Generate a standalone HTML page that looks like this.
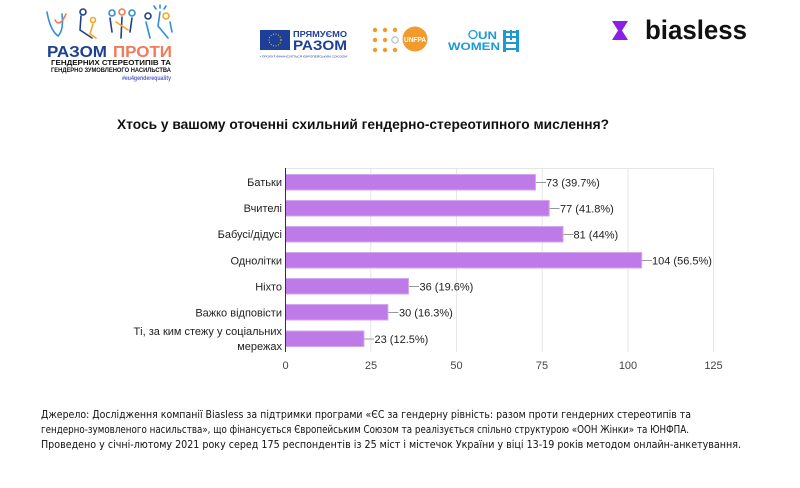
<!DOCTYPE html>
<html>
<head>
<meta charset="utf-8">
<style>
html,body{margin:0;padding:0;background:#fff;}
svg{display:block;}
</style>
</head>
<body>
<svg width="800" height="488" viewBox="0 0 800 488" xmlns="http://www.w3.org/2000/svg" font-family="Liberation Sans, sans-serif">
<rect width="800" height="488" fill="#fff"/>

<!-- Left logo: figures -->
<g fill="none" stroke-width="1.6" stroke-linecap="round">
  <path d="M47 12 Q50 30 58 36 Q64 30 62 14" stroke="#2f8fd8"/>
  <path d="M55 20 Q60 28 66 14" stroke="#f07a5a"/>
  <circle cx="83" cy="12" r="3" stroke="#1f3f8f"/>
  <path d="M81 16 L80 30 L92 38" stroke="#1f3f8f"/>
  <circle cx="93" cy="20" r="2.5" stroke="#f5a623"/>
  <path d="M93 24 L90 34 L96 38" stroke="#f5a623"/>
  <circle cx="112" cy="13" r="3" stroke="#2f8fd8"/>
  <circle cx="122" cy="12" r="3" stroke="#f07a5a"/>
  <circle cx="132" cy="13" r="3" stroke="#2f8fd8"/>
  <path d="M110 18 L112 32 M122 17 L121 38 M132 18 L130 32" stroke="#1f3f8f"/>
  <path d="M116 22 L128 30" stroke="#f5a623"/>
  <circle cx="148" cy="16" r="3" stroke="#1f3f8f"/>
  <circle cx="166" cy="16" r="3" stroke="#f5a623"/>
  <path d="M146 22 L150 38 M160 12 L158 26 L168 38 M170 22 L172 32" stroke="#2f8fd8"/>
  <path d="M154 6 L156 9 M160 5 L160 8 M166 6 L164 9" stroke="#2f8fd8"/>
</g>
<text x="47" y="57" font-size="15.5" font-weight="bold" fill="#1f3f8f" textLength="60" lengthAdjust="spacingAndGlyphs">РАЗОМ</text>
<text x="113" y="57" font-size="15.5" font-weight="bold" fill="#f07a5a" textLength="59" lengthAdjust="spacingAndGlyphs">ПРОТИ</text>
<text x="51" y="65" font-size="7" font-weight="bold" fill="#111" textLength="120" lengthAdjust="spacingAndGlyphs">ГЕНДЕРНИХ СТЕРЕОТИПІВ ТА</text>
<text x="51" y="72" font-size="6" font-weight="bold" fill="#111" textLength="120" lengthAdjust="spacingAndGlyphs">ГЕНДЕРНО ЗУМОВЛЕНОГО НАСИЛЬСТВА</text>
<text x="122" y="80" font-size="6.5" font-weight="bold" fill="#5b63c9" textLength="49" lengthAdjust="spacingAndGlyphs">#eu4genderequality</text>

<!-- EU logo -->
<rect x="260" y="30" width="30" height="20" fill="#1e3f99"/>
<circle cx="275" cy="40" r="6" fill="none" stroke="#f5d000" stroke-width="1" stroke-dasharray="1 1.6"/>
<text x="293" y="37" font-size="8" font-weight="bold" fill="#1e3f99" textLength="54" lengthAdjust="spacingAndGlyphs">ПРЯМУЄМО</text>
<text x="293" y="50" font-size="14" font-weight="bold" fill="#1e3f99" textLength="54" lengthAdjust="spacingAndGlyphs">РАЗОМ</text>
<text x="260" y="57.5" font-size="3" fill="#1e3f99" textLength="87" lengthAdjust="spacingAndGlyphs">• ПРОЄКТ ФІНАНСУЄТЬСЯ ЄВРОПЕЙСЬКИМ СОЮЗОМ</text>

<!-- UNFPA -->
<g fill="#f39a2c">
  <circle cx="375" cy="30" r="2.2"/><circle cx="385" cy="30" r="2.2"/><circle cx="395" cy="30" r="2.2"/>
  <circle cx="375" cy="40" r="2.2"/><circle cx="385" cy="40" r="2.2"/>
  <circle cx="375" cy="50" r="2.2"/><circle cx="385" cy="50" r="2.2"/><circle cx="395" cy="50" r="2.2"/>
</g>
<circle cx="395" cy="40" r="3.2" fill="none" stroke="#8aa" stroke-width="0.8"/>
<circle cx="415" cy="39" r="12.5" fill="#f39a2c"/>
<text x="415" y="42" font-size="7.5" font-weight="bold" fill="#fff" text-anchor="middle" textLength="22" lengthAdjust="spacingAndGlyphs">UNFPA</text>

<!-- UN WOMEN -->
<circle cx="473" cy="34.5" r="4" fill="none" stroke="#1d9ad6" stroke-width="1.3"/>
<text x="478" y="39" font-size="11" font-weight="bold" fill="#1d9ad6" textLength="19" lengthAdjust="spacingAndGlyphs">UN</text>
<text x="448" y="50" font-size="11" font-weight="bold" fill="#1d9ad6" textLength="52" lengthAdjust="spacingAndGlyphs">WOMEN</text>
<g fill="#1d9ad6">
  <rect x="503" y="30" width="3" height="22"/>
  <rect x="516" y="30" width="3" height="22"/>
  <rect x="506" y="31" width="10" height="2"/>
  <rect x="506" y="36" width="10" height="2"/>
  <rect x="506" y="42" width="10" height="2"/>
  <rect x="506" y="48" width="10" height="2"/>
  <rect x="510" y="30" width="2" height="10"/>
</g>

<!-- biasless -->
<path d="M612 21 L628 21 L622 30.5 L628 40 L612 40 L618 30.5 Z" fill="#8b1fe8"/>
<text x="645" y="39" font-size="27" font-weight="bold" fill="#111" textLength="102" lengthAdjust="spacingAndGlyphs">biasless</text>

<!-- Title -->
<text x="117" y="129" font-size="13.5" font-weight="bold" fill="#111" textLength="492" lengthAdjust="spacingAndGlyphs">Хтось у вашому оточенні схильний гендерно-стереотипного мислення?</text>

<!-- Grid -->
<g stroke="#e6e6e6" stroke-width="1">
  <line x1="285" y1="168.5" x2="714" y2="168.5"/>
  <line x1="370.75" y1="168" x2="370.75" y2="352"/>
  <line x1="456.5" y1="168" x2="456.5" y2="352"/>
  <line x1="542.25" y1="168" x2="542.25" y2="352"/>
  <line x1="628" y1="168" x2="628" y2="352"/>
  <line x1="713.5" y1="168" x2="713.5" y2="352"/>
</g>

<!-- Bars -->
<g fill="#be7ae6" stroke="#d3a6f0" stroke-width="1">
  <rect x="285.5" y="174.5" width="250" height="15.5"/>
  <rect x="285.5" y="200.5" width="263.7" height="15.5"/>
  <rect x="285.5" y="226.5" width="277.5" height="15.5"/>
  <rect x="285.5" y="252.5" width="356.2" height="15.5"/>
  <rect x="285.5" y="278.5" width="123" height="15.5"/>
  <rect x="285.5" y="304.5" width="102.4" height="15.5"/>
  <rect x="285.5" y="331" width="78.4" height="15.5"/>
</g>

<!-- Axis line -->
<line x1="285.5" y1="168" x2="285.5" y2="352" stroke="#333" stroke-width="1"/>

<!-- Leader lines -->
<g stroke="#999" stroke-width="1">
  <line x1="536" y1="182.5" x2="546" y2="182.5"/>
  <line x1="549.5" y1="208.5" x2="559.5" y2="208.5"/>
  <line x1="563.5" y1="234.5" x2="573.5" y2="234.5"/>
  <line x1="642" y1="260.5" x2="652" y2="260.5"/>
  <line x1="409" y1="286.5" x2="419" y2="286.5"/>
  <line x1="388.5" y1="312.5" x2="398.5" y2="312.5"/>
  <line x1="364" y1="339" x2="374" y2="339"/>
</g>

<!-- Value labels -->
<g font-size="11" fill="#222">
  <text x="546" y="186.5">73 (39.7%)</text>
  <text x="560" y="212.5">77 (41.8%)</text>
  <text x="573.5" y="238.5">81 (44%)</text>
  <text x="652" y="264.5">104 (56.5%)</text>
  <text x="419.5" y="290.5">36 (19.6%)</text>
  <text x="399" y="316.5">30 (16.3%)</text>
  <text x="374.5" y="343">23 (12.5%)</text>
</g>

<!-- Category labels -->
<g font-size="11" fill="#222" text-anchor="end">
  <text x="282" y="186">Батьки</text>
  <text x="282" y="212">Вчителі</text>
  <text x="282" y="238">Бабусі/дідусі</text>
  <text x="282" y="264.5">Однолітки</text>
  <text x="282" y="290.5">Ніхто</text>
  <text x="282" y="316.5">Важко відповісти</text>
  <text x="282" y="335">Ті, за ким стежу у соціальних</text>
  <text x="282" y="350">мережах</text>
</g>

<!-- Tick labels -->
<g font-size="11" fill="#444" text-anchor="middle">
  <text x="285.5" y="369">0</text>
  <text x="371" y="369">25</text>
  <text x="456.5" y="369">50</text>
  <text x="542" y="369">75</text>
  <text x="628" y="369">100</text>
  <text x="713.5" y="369">125</text>
</g>

<!-- Footnote -->
<g font-family="DejaVu Sans, Liberation Sans, sans-serif" font-size="10.5" fill="#111">
  <text x="41" y="418" textLength="650" lengthAdjust="spacingAndGlyphs">Джерело: Дослідження компанії Biasless за підтримки програми «ЄС за гендерну рівність: разом проти гендерних стереотипів та</text>
  <text x="41" y="433" textLength="648" lengthAdjust="spacingAndGlyphs">гендерно-зумовленого насильства», що фінансується Європейським Союзом та реалізується спільно структурою «ООН Жінки» та ЮНФПА.</text>
  <text x="41" y="448" textLength="700" lengthAdjust="spacingAndGlyphs">Проведено у січні-лютому 2021 року серед 175 респондентів  із 25 міст і містечок України у віці 13-19 років методом онлайн-анкетування.</text>
</g>
</svg>
</body>
</html>
